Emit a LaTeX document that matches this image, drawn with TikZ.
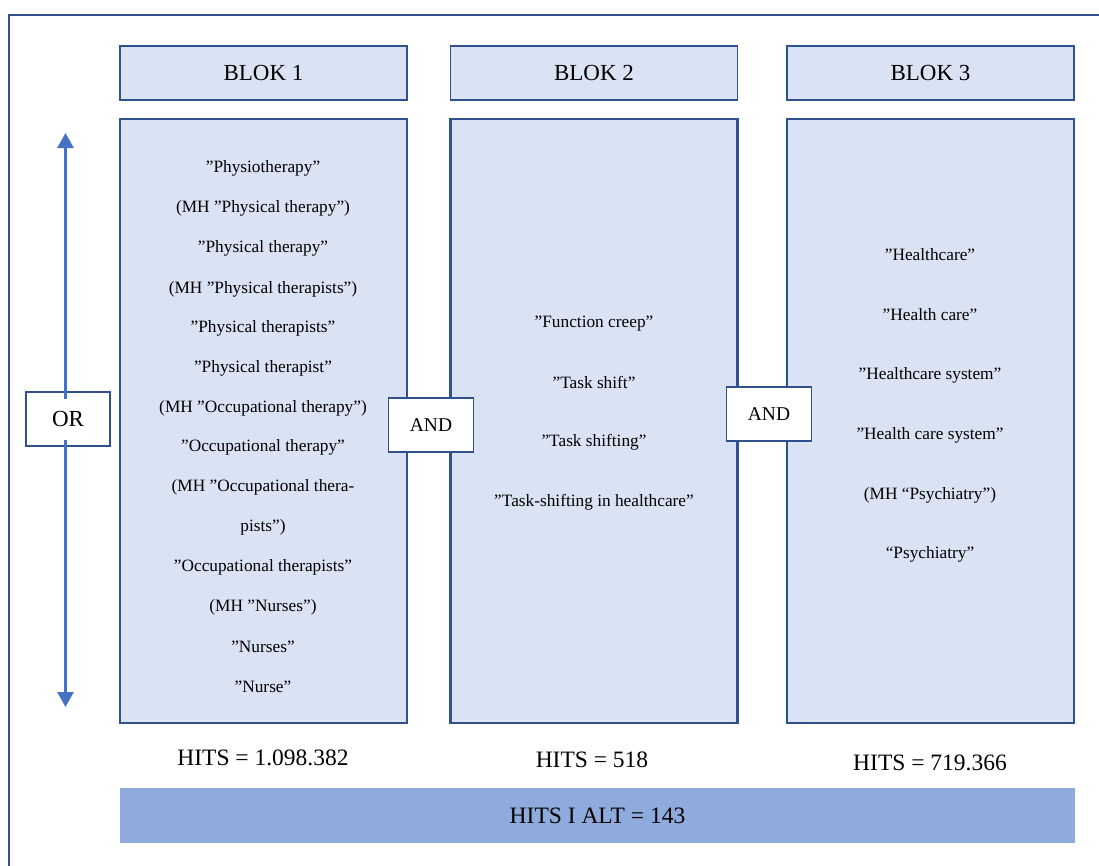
\documentclass[tikz,border=0pt]{standalone}
\usepackage{fontspec}
\setmainfont{Liberation Serif}
\usetikzlibrary{arrows.meta}
\definecolor{navy}{RGB}{47,82,143}
\definecolor{lightfill}{RGB}{218,227,243}
\definecolor{barfill}{RGB}{143,170,220}
\definecolor{arrowblue}{RGB}{68,114,196}
\tikzset{
  headbox/.style={draw=navy,line width=1.8pt,fill=lightfill,minimum width=287pt,minimum height=54pt,inner sep=0pt,font=\fontsize{23}{26}\selectfont},
  mainbox/.style={draw=navy,line width=2.4pt,fill=lightfill,minimum width=287pt,minimum height=604pt,inner sep=0pt},
  item/.style={inner sep=0pt,font=\fontsize{17.3}{20}\selectfont},
  andbox/.style={draw=navy,line width=1.5pt,fill=white,minimum width=85pt,minimum height=54pt,inner sep=0pt,font=\fontsize{19.5}{22}\selectfont},
  orbox/.style={draw=navy,line width=1.5pt,fill=white,minimum width=84pt,minimum height=54pt,inner sep=0pt,font=\fontsize{23}{26}\selectfont},
  hits/.style={inner sep=0pt,font=\fontsize{23.5}{26}\selectfont},
  orarrow/.style={draw=arrowblue,line width=2.8pt,-{Triangle[width=16pt,length=15pt]}},
}
\begin{document}
\begin{tikzpicture}[x=1pt,y=-1pt]
\useasboundingbox (0,0) rectangle (1099,865);
% outer frame
\coordinate (frametr) at (1102,15);
\coordinate (frametl) at (9,15);
\coordinate (framebl) at (9,868);
\draw[navy,line width=2.6pt] (frametr) -- (frametl) -- (framebl);
% headers
\node[headbox] (h1) at (263.5,73) {BLOK 1};
\node[headbox] (h2) at (594,73) {BLOK 2};
\node[headbox] (h3) at (930.5,73) {BLOK 3};
% main boxes
\node[mainbox] (b1) at (263.5,421) {};
\node[mainbox] (b2) at (594,421) {};
\node[mainbox] (b3) at (930.5,421) {};
% block 1 items
\node[item] (i1) at (263,168) {”Physiotherapy”};
\node[item] (i2) at (263,208) {(MH ”Physical therapy”)};
\node[item] (i3) at (263,248) {”Physical therapy”};
\node[item] (i4) at (263,289) {(MH ”Physical therapists”)};
\node[item] (i5) at (263,328) {”Physical therapists”};
\node[item] (i6) at (263,368) {”Physical therapist”};
\node[item] (i7) at (263,408) {(MH ”Occupational therapy”)};
\node[item] (i8) at (263,447) {”Occupational therapy”};
\node[item] (i9) at (263,487) {(MH ”Occupational thera-};
\node[item] (i10) at (263,527) {pists”)};
\node[item] (i11) at (263,567) {”Occupational therapists”};
\node[item] (i12) at (263,607) {(MH ”Nurses”)};
\node[item] (i13) at (263,647) {”Nurses”};
\node[item] (i14) at (263,687) {”Nurse”};
% block 2 items
\node[item] (j1) at (594,324) {”Function creep”};
\node[item] (j2) at (594,382) {”Task shift”};
\node[item] (j3) at (594,442) {”Task shifting”};
\node[item] (j4) at (594,502) {”Task-shifting in healthcare”};
% block 3 items
\node[item] (k1) at (930,255) {”Healthcare”};
\node[item] (k2) at (930,315) {”Health care”};
\node[item] (k3) at (930,375) {”Healthcare system”};
\node[item] (k4) at (930,435) {”Health care system”};
\node[item] (k5) at (930,495) {(MH “Psychiatry”)};
\node[item] (k6) at (930,554) {“Psychiatry”};
% AND boxes
\node[andbox] (and1) at (431,425) {AND};
\node[andbox] (and2) at (769,414) {AND};
% OR box and arrows
\node[orbox] (or) at (68,419) {OR};
\coordinate (uptip) at (65.5,133);
\coordinate (downtip) at (65.5,707);
\draw[orarrow] ([xshift=-2.5pt,yshift=-8pt]or.north) -- (uptip);
\draw[orarrow] ([xshift=-2.5pt,yshift=7pt]or.south) -- (downtip);
% hits
\node[hits] (hit1) at (263,758) {HITS = 1.098.382};
\node[hits] (hit2) at (592,760) {HITS = 518};
\node[hits] (hit3) at (930,763) {HITS = 719.366};
% bottom bar
\node[fill=barfill,minimum width=955pt,minimum height=55pt,inner sep=0pt,font=\fontsize{23.5}{26}\selectfont] (total) at (597.5,815.5) {HITS I ALT = 143};
\end{tikzpicture}
\end{document}
